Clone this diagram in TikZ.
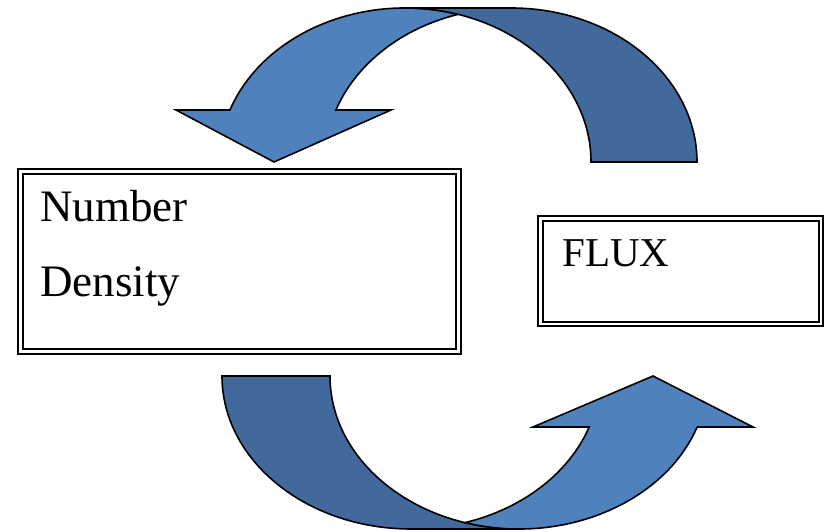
\documentclass[tikz,border=0pt]{standalone}
\usepackage{fontspec}
\setmainfont{Liberation Serif}
\definecolor{fluxblue}{RGB}{79,129,189}
\definecolor{fluxdark}{RGB}{65,105,155}

\begin{document}
\begin{tikzpicture}[x=1pt, y=1pt,
    dbox/.style={draw, double, double distance=2.6pt, line width=2pt,
                 inner sep=0pt, fill=white},
    lbl/.style={inner sep=0pt, anchor=base west},
    front/.style={fill=fluxblue, draw=black, line width=1.6pt},
    back/.style={fill=fluxdark, draw=black, line width=1.6pt}
  ]
  \useasboundingbox (0,0) rectangle (831,532);

  \node[dbox, minimum width=438pt, minimum height=180pt] (density) at (239.5,270.5) {};
  \node[dbox, minimum width=280.5pt, minimum height=105.5pt] (flux) at (680.75,260.75) {};

  \node[lbl, font=\fontsize{45}{54}\selectfont] (numtxt) at (40,310) {Number};
  \node[lbl, font=\fontsize{45}{54}\selectfont] (dentxt) at (40,235) {Density};
  \node[lbl, font=\fontsize{41}{49}\selectfont] (fluxtxt) at (562,265) {FLUX};

  % upper arrow, from FLUX back to the density box
  \filldraw[front] (274,370) -- (391,422) -- (335.94,422)
    arc[start angle=160.265, end angle=106.556, x radius=186pt, y radius=154pt]
    arc[start angle=73.444, end angle=160.265, x radius=186pt, y radius=154pt]
    -- (176,422) -- cycle;
  \filldraw[back] (697,370)
    arc[start angle=0, end angle=90, x radius=186pt, y radius=154pt]
    -- (405,524)
    arc[start angle=90, end angle=0, x radius=186pt, y radius=154pt] -- cycle;

  % lower arrow, from the density box to FLUX
  \filldraw[back] (222,156)
    arc[start angle=180, end angle=270, x radius=189pt, y radius=153pt]
    -- (519,3)
    arc[start angle=270, end angle=180, x radius=189pt, y radius=153pt] -- cycle;
  \filldraw[front] (653,156) -- (533,105) -- (589.19,105)
    arc[start angle=-19.471, end angle=-73.398, x radius=189pt, y radius=153pt]
    arc[start angle=253.398, end angle=340.529, x radius=189pt, y radius=153pt]
    -- (753,105) -- cycle;
\end{tikzpicture}
\end{document}
